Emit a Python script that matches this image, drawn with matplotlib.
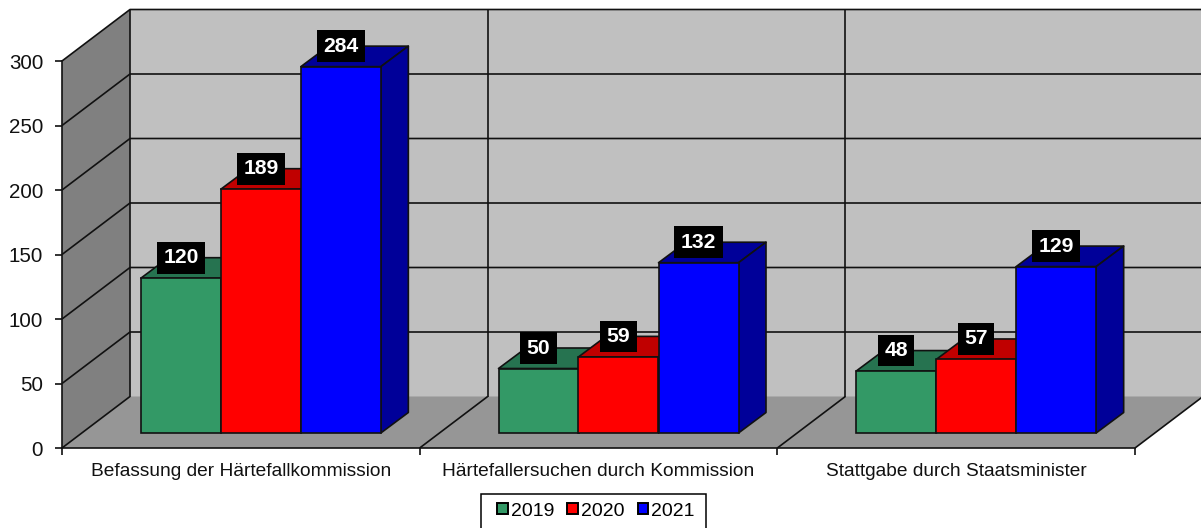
import matplotlib
matplotlib.use("Agg")
import matplotlib.pyplot as plt
from matplotlib.patches import Polygon, Patch, Rectangle

categories = ["Befassung der Härtefallkommission",
              "Härtefallersuchen durch Kommission",
              "Stattgabe durch Staatsminister"]
years = ["2019", "2020", "2021"]
values_2019 = [120, 50, 48]
values_2020 = [189, 59, 57]
values_2021 = [284, 132, 129]
series = [values_2019, values_2020, values_2021]
front_colors = ["#339966", "#FF0000", "#0000FF"]
dark_colors = ["#267350", "#C00000", "#000099"]
y_ticks = [0, 50, 100, 150, 200, 250, 300]

W, H = 1201, 528
plt.rcParams["font.family"] = ["Liberation Sans", "DejaVu Sans"]
fig = plt.figure(figsize=(W / 100, H / 100), dpi=100, facecolor="white")
L, R, B, T = 62, 1135, 448, 61
ax = fig.add_axes([L / W, 1 - B / H, (R - L) / W, (B - T) / H])
ax.set_xlim(0, 3)
ax.set_ylim(0, 300)
ax.patch.set_visible(False)

# pixel lengths -> data units
ux = 3 / (R - L)
uy = 300 / (B - T)
DX, DY = 68 * ux, 51.5 * uy          # wall depth
SX, SY = 20 * ux, 15 * uy            # bar offset from the front edge
BX, BY = 27.5 * ux, 20.5 * uy        # bar depth
BAR_W = 80 * ux
EDGE = "#111111"
LW = 1.2


def poly(points, face, z, edge="none", lw=0):
    ax.add_patch(Polygon(points, closed=True, facecolor=face, edgecolor=edge,
                         linewidth=lw, zorder=z, clip_on=False, joinstyle="round"))


def line(xs, ys, z=3, lw=LW):
    ax.plot(xs, ys, color=EDGE, lw=lw, zorder=z, clip_on=False, solid_capstyle="butt")


# walls and floor
poly([(DX, DY), (3 + DX, DY), (3 + DX, 300 + DY), (DX, 300 + DY)], "#C0C0C0", 1)
poly([(0, 0), (3, 0), (3 + DX, DY), (DX, DY)], "#969696", 2)
poly([(0, 0), (DX, DY), (DX, 300 + DY), (0, 300)], "#808080", 2)

# gridlines on the walls
for v in y_ticks[1:]:
    line([0, DX, 3 + DX], [v, v + DY, v + DY])
line([0, DX], [0, DY])
line([DX, DX], [DY, 300 + DY])
for i in (1, 2):
    line([i + DX, i + DX], [DY, 300 + DY])
    line([i, i + DX], [0, DY])
line([3, 3 + DX], [0, DY])

# bars
z = 10
for c in range(len(categories)):
    for s, vals in enumerate(series):
        v = vals[c]
        x0 = c + 0.5 + (s - 1.5) * BAR_W + SX
        x1 = x0 + BAR_W
        y0, y1 = SY, SY + v
        poly([(x0, y1), (x1, y1), (x1 + BX, y1 + BY), (x0 + BX, y1 + BY)],
             dark_colors[s], z, EDGE, LW)
        poly([(x1, y0), (x1 + BX, y0 + BY), (x1 + BX, y1 + BY), (x1, y1)],
             dark_colors[s], z, EDGE, LW)
        ax.bar(x0, v, width=BAR_W, bottom=y0, align="edge", color=front_colors[s],
               edgecolor=EDGE, linewidth=LW, zorder=z + 1)
        z += 2

# value labels
for c in range(len(categories)):
    for s, vals in enumerate(series):
        v = vals[c]
        xc = c + 0.5 + (s - 1) * BAR_W + SX
        ax.text(xc, SY + v + 20.5 * uy, str(v), color="white", fontsize=15.2,
                fontweight="bold", ha="center", va="center", zorder=100,
                bbox=dict(boxstyle="square,pad=0.3", facecolor="black", edgecolor="none"))

# axes
for side in ("top", "right"):
    ax.spines[side].set_visible(False)
for side in ("left", "bottom"):
    ax.spines[side].set_linewidth(LW)
    ax.spines[side].set_color(EDGE)
    ax.spines[side].set_zorder(5)
ax.set_yticks(y_ticks)
ax.tick_params(axis="y", length=5, width=LW, color=EDGE, pad=8.5, labelsize=14.8, labelcolor="#111111")
ax.set_xticks([0, 1, 2, 3])
ax.set_xticklabels([])
ax.set_xticks([0.5, 1.5, 2.5], minor=True)
ax.set_xticklabels(categories, minor=True)
ax.tick_params(axis="x", which="major", length=5, width=LW, color=EDGE)
ax.tick_params(axis="x", which="minor", length=0, pad=10.5, labelsize=13.8, labelcolor="#111111")

# legend: frame runs past the lower image edge as in the reference
fig.add_artist(Rectangle((481 / W, 1 - 532 / H), 225 / W, 38 / H, transform=fig.transFigure,
                         facecolor="white", edgecolor="black", linewidth=1.1, zorder=20))
handles = [Patch(facecolor=f, edgecolor="black", linewidth=1.4) for f in front_colors]
leg = fig.legend(handles, years, loc="center", ncol=3, fontsize=14,
                 bbox_to_anchor=(596 / W, 1 - 511 / H), frameon=False,
                 handlelength=0.55, handleheight=0.55, handletextpad=0.15,
                 columnspacing=0.68, borderaxespad=0, borderpad=0)
leg.set_zorder(30)
fig.savefig("out.png", dpi=100, facecolor="white")
